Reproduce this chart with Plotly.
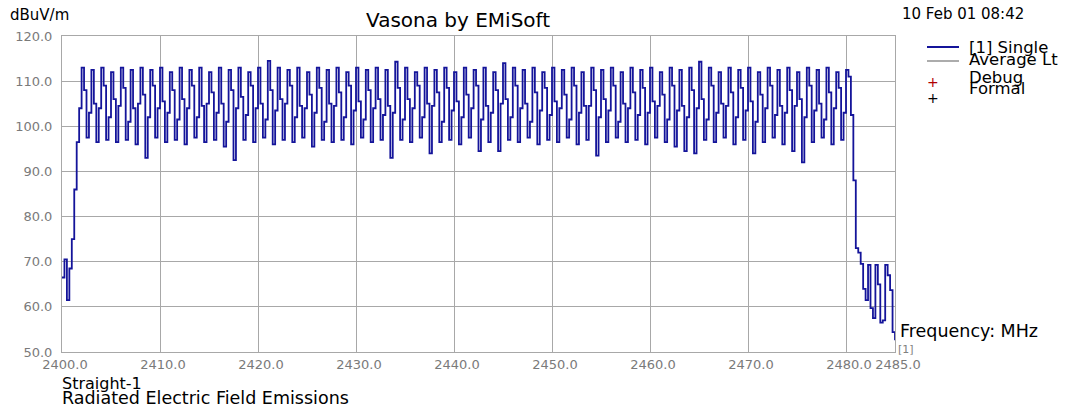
import numpy as np
import plotly.graph_objects as go

# ---------------- data ----------------
freq_start = 2400.0
freq_step = 0.25

# measured level (dBuV/m), one value every 0.25 MHz from 2400.0 to 2485.0
lead_in = [66.5, 70.5, 61.5, 68.5, 75, 86, 96.5, 104]
band_levels = [
    113, 108, 97.5, 103,   112.5, 105, 96.5, 104,   113, 109, 97, 102,   112, 106, 96.5, 104.5,
    113, 108.5, 97, 101,   112.5, 104, 96, 105,     113, 107, 93, 102,   112.5, 109, 97.5, 104,
    113, 105.5, 96.5, 103, 112, 108, 97, 101.5,     113, 106, 96, 104,   112.5, 109, 97.5, 102,
    113, 104.5, 96.5, 105, 112, 107.5, 97, 103,     113, 105, 95.5, 101, 112.5, 108, 92.5, 104,
    113, 106.5, 97, 102.5, 112, 109, 96.5, 104,     113, 105, 97.5, 101.5, 114.5, 108, 96, 103.5,
    113, 106, 97, 105,     112.5, 109, 96.5, 102,   113, 104.5, 97.5, 104, 112, 107, 95.5, 103,
    113, 108.5, 97, 101,   112.5, 105, 96.5, 104.5, 113, 107.5, 97, 102, 112, 109, 96, 103.5,
    113, 105.5, 97.5, 101.5, 112.5, 108, 96.5, 104, 113, 106, 97, 102.5, 112.5, 104.5, 93, 103,
    114.3, 108.5, 97, 101.5, 113, 106, 96.5, 104,   112, 109, 97.5, 102, 113, 105, 94, 104.5,
    112.5, 107.5, 96.5, 101, 113, 108.5, 97, 103.5, 112, 105.5, 96, 102, 113, 107, 97.5, 104,
    112.5, 109, 94.5, 101.5, 113, 104.5, 96.5, 103, 112, 108, 94.5, 105, 114, 106, 97, 102,
    113, 109, 96.5, 104,   112.5, 105, 97.5, 101,   113, 107.5, 96, 103.5, 112, 108.5, 97, 102.5,
    113, 105.5, 96.5, 104, 112.5, 107, 97.5, 101.5, 113, 109, 96, 103,   112, 104.5, 97, 104.5,
    113, 108, 93.5, 102,   112.5, 106, 96.5, 103.5, 113, 109, 97.5, 101, 112, 105, 96.5, 104,
    113, 107.5, 97, 102.5, 112.5, 108.5, 96, 103,   113, 105.5, 97.5, 104.5, 112, 107, 96.5, 101.5,
    113, 109, 95.5, 103.5, 112.5, 104.5, 94.5, 102, 113, 108, 94, 104,   114.3, 106, 97, 101.5,
    113, 109, 96.5, 103,   112, 105, 97.5, 104.5,   113, 107.5, 96, 102, 112.5, 108.5, 97, 103.5,
    113, 105.5, 94, 101,   112, 107, 96.5, 104,     113, 109, 97.5, 102.5, 112.5, 104.5, 96, 103,
    113, 108, 94.5, 104.5, 112, 106, 92, 102,       113, 109, 96.5, 103.5, 112.5, 105, 97.5, 101.5,
    113, 107.5, 96, 104,   112, 108.5, 97, 103,
]
roll_off = [112.5, 111, 102.5, 88, 73, 72, 69.5, 64, 61.5, 69.3, 59.7, 57.5, 69.3, 65,
            56.5, 57, 69.3, 67, 63.7, 54.4, 52.6]

levels = lead_in + band_levels + roll_off
freqs = freq_start + freq_step * np.arange(len(levels))

y_ticks = [50, 60, 70, 80, 90, 100, 110, 120]
x_ticks = [2400, 2410, 2420, 2430, 2440, 2450, 2460, 2470, 2480, 2485]
x_tick_text = ["2400.0", "2410.0", "2420.0", "2430.0", "2440.0", "2450.0",
               "2460.0", "2470.0", "2480.0", "2485.0"]
y_tick_text = ["50.0", "60.0", "70.0", "80.0", "90.0", "100.0", "110.0", "120.0"]

# ---------------- layout geometry ----------------
W, H = 1081, 410
L, R, T, B = 62, 895, 36, 352
FONT = "DejaVu Sans"
GRID = "#a8a8a8"
BLUE = "#14149a"


def px(x):
    return (x - L) / (R - L)


def py(y):
    return (B - y) / (B - T)


fig = go.Figure()
fig.add_trace(go.Scatter(
    x=freqs, y=levels, mode="lines", line=dict(color=BLUE, width=1.8, shape="hv"),
    showlegend=False, hoverinfo="x+y",
))

annotations = []


def txt(s, x, y, size, color="black", xanchor="left"):
    annotations.append(dict(
        text=s, x=px(x), y=py(y), xref="paper", yref="paper", showarrow=False,
        xanchor=xanchor, yanchor="middle", font=dict(family=FONT, size=size, color=color),
    ))


txt("Vasona by EMiSoft", 458, 20, 20, xanchor="center")
txt("dBuV/m", 8, 15, 15)
txt("10 Feb 01 08:42", 900, 14, 15)
txt("[1] Single", 967, 48, 16.5)
txt("Average Lt", 967, 60, 16.5)
txt("Debug", 967, 77, 16.5)
txt("Formal", 967, 88, 16.5)
txt("+", 933, 82, 14, color="#b00000", xanchor="center")
txt("+", 933, 98, 14, color="black", xanchor="center")
txt("Frequency: MHz", 898, 331, 17.5)
txt("[1]", 896, 349, 11, color="#808080")
txt("Straight-1", 60, 383, 16)
txt("Radiated Electric Field Emissions", 60, 398, 17.5)

shapes = [
    dict(type="line", xref="paper", yref="paper", x0=px(927), x1=px(959), y0=py(47), y1=py(47),
         line=dict(color=BLUE, width=2)),
    dict(type="line", xref="paper", yref="paper", x0=px(927), x1=px(959), y0=py(61), y1=py(61),
         line=dict(color="#909090", width=1.5)),
]

axis_font = dict(family=FONT, size=13, color="#7a7a7a")
fig.update_layout(
    width=W, height=H,
    margin=dict(l=L, r=W - R, t=T, b=H - B, pad=0),
    paper_bgcolor="white", plot_bgcolor="white",
    showlegend=False,
    annotations=annotations, shapes=shapes,
    xaxis=dict(
        range=[2400, 2485], tickvals=x_ticks, ticktext=x_tick_text, tickfont=axis_font,
        showgrid=True, gridcolor=GRID, gridwidth=1, zeroline=False,
        showline=True, linecolor=GRID, linewidth=1, mirror=True, ticks="",
        ticklabelshift=3,
    ),
    yaxis=dict(
        range=[50, 120], tickvals=y_ticks, ticktext=y_tick_text, tickfont=axis_font,
        showgrid=True, gridcolor=GRID, gridwidth=1, zeroline=False,
        showline=True, linecolor=GRID, linewidth=1, mirror=True, ticks="",
        ticklabelstandoff=6,
    ),
)

fig.write_html("out.html", config={"displayModeBar": False},
               post_script="document.body.style.margin='0';")
